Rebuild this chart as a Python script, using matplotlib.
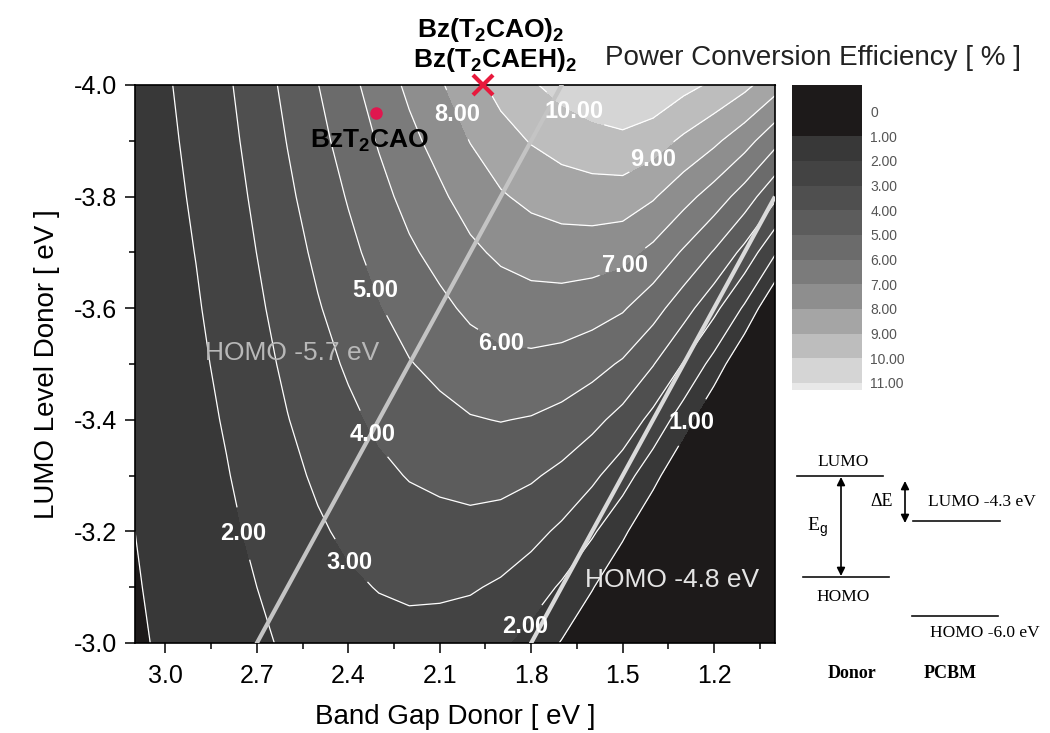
import numpy as np
import matplotlib
matplotlib.use('Agg')
import matplotlib.pyplot as plt

plt.rcParams['font.family'] = ['Liberation Sans', 'DejaVu Sans']
plt.rcParams['axes.unicode_minus'] = False
plt.rcParams['mathtext.fontset'] = 'custom'
plt.rcParams['mathtext.rm'] = 'Liberation Sans'
plt.rcParams['mathtext.bf'] = 'Liberation Sans:bold'
plt.rcParams['mathtext.it'] = 'Liberation Sans:italic'

# band gap of the donor (x) and LUMO level of the donor (y), eV
gap = [3.1, 3.0, 2.9, 2.8, 2.7, 2.6, 2.5, 2.4, 2.3, 2.2, 2.1,
       2.0, 1.9, 1.8, 1.7, 1.6, 1.5, 1.4, 1.3, 1.2, 1.1, 1.0]
lumo = [-3.0, -3.1, -3.2, -3.3, -3.4, -3.5, -3.6, -3.7, -3.8, -3.9, -4.0]

# power conversion efficiency [%], one row per LUMO level
pce = [
    [0.89, 1.11, 1.31, 1.56, 1.84, 2.12, 2.36, 2.54, 2.66, 2.70, 2.63, 2.47, 2.15, 1.65, 0.94, 0.00, 0.00, 0.00, 0.00, 0.00, 0.00, 0.00],
    [0.94, 1.19, 1.41, 1.69, 2.00, 2.33, 2.62, 2.85, 3.04, 3.15, 3.15, 3.09, 2.87, 2.47, 1.88, 1.07, 0.00, 0.00, 0.00, 0.00, 0.00, 0.00],
    [1.00, 1.26, 1.52, 1.82, 2.17, 2.54, 2.88, 3.17, 3.42, 3.60, 3.68, 3.71, 3.59, 3.30, 2.82, 2.14, 1.22, 0.00, 0.00, 0.00, 0.00, 0.00],
    [1.06, 1.34, 1.62, 1.95, 2.34, 2.76, 3.14, 3.49, 3.80, 4.05, 4.20, 4.33, 4.31, 4.12, 3.76, 3.21, 2.44, 1.35, 0.00, 0.00, 0.00, 0.00],
    [1.12, 1.42, 1.72, 2.08, 2.51, 2.97, 3.41, 3.80, 4.18, 4.50, 4.73, 4.94, 5.03, 4.94, 4.70, 4.28, 3.66, 2.70, 1.47, 0.00, 0.00, 0.00],
    [1.18, 1.50, 1.82, 2.21, 2.67, 3.18, 3.67, 4.12, 4.56, 4.95, 5.25, 5.56, 5.74, 5.77, 5.64, 5.35, 4.88, 4.05, 2.94, 1.64, 0.00, 0.00],
    [1.24, 1.58, 1.92, 2.34, 2.84, 3.39, 3.93, 4.44, 4.94, 5.40, 5.78, 6.18, 6.46, 6.59, 6.58, 6.42, 6.10, 5.40, 4.41, 3.28, 1.85, 0.00],
    [1.30, 1.66, 2.02, 2.47, 3.01, 3.60, 4.19, 4.76, 5.32, 5.85, 6.30, 6.80, 7.18, 7.42, 7.52, 7.49, 7.32, 6.75, 5.88, 4.92, 3.70, 2.10],
    [1.36, 1.74, 2.12, 2.60, 3.17, 3.82, 4.45, 5.07, 5.70, 6.30, 6.83, 7.42, 7.90, 8.24, 8.46, 8.56, 8.54, 8.10, 7.35, 6.56, 5.55, 4.20],
    [1.42, 1.82, 2.22, 2.73, 3.34, 4.03, 4.72, 5.39, 6.08, 6.75, 7.35, 8.03, 8.62, 9.06, 9.40, 9.63, 9.76, 9.45, 8.82, 8.20, 7.40, 6.30],
    [1.48, 1.90, 2.32, 2.86, 3.51, 4.24, 4.98, 5.71, 6.46, 7.20, 7.88, 8.65, 9.33, 9.89, 10.34, 10.70, 10.98, 10.80, 10.29, 9.84, 9.25, 8.40],
]

levels = list(range(12))
cbar_labels = ['0'] + ['%.2f' % v for v in range(1, 12)]
band_colors = ['#1d1a1a', '#383838', '#434343', '#4f4f4f', '#5c5c5c', '#6b6b6b',
               '#7b7b7b', '#8e8e8e', '#a5a5a5', '#bdbdbd', '#d5d5d5', '#e8e8e8']

homo_lines = [-5.7, -4.8]
homo_text = ['HOMO -5.7 eV', 'HOMO -4.8 eV']
homo_text_pos = [(2.585, -3.52), (1.337, -3.113)]

label_pos = [(1.672, -3.941), (1.393, -3.86), (2.05, -3.945), (1.508, -3.686),
             (1.902, -3.529), (2.302, -3.633), (2.329, -3.371), (2.407, -3.14),
             (2.739, -3.197), (1.836, -3.038), (1.268, -3.394)]

marker_x = (1.958, -4.0)
marker_dot = (2.31, -3.95)

fig = plt.figure(figsize=(10.5, 7.33), dpi=100)
ax = fig.add_axes([135 / 1050, 1 - 643 / 733, 640 / 1050, 558 / 733])

ax.contourf(gap, lumo, pce, levels=levels, colors=band_colors[:11])
cs = ax.contour(gap, lumo, pce, levels=levels[1:11], colors='white', linewidths=0.9)
txts = ax.clabel(cs, levels=levels[1:11], manual=label_pos, inline=True, inline_spacing=4,
                 fmt='%.2f', fontsize=17, colors='white')
for t in txts:
    t.set_rotation(0)
    t.set_fontweight('bold')

g = np.array(gap)
for h, c in zip(homo_lines, ['#c4c4c4', '#dadada']):
    ax.plot(g, g + h, color=c, lw=3, zorder=3, solid_capstyle='butt')
for s, (x, y), c in zip(homo_text, homo_text_pos, ['#b8b8b8', '#e4e4e4']):
    ax.text(x, y, s, color=c, fontsize=19, ha='center', va='center', zorder=4)

ax.plot(*marker_x, marker='x', ms=14, mew=3, color='#e8193c', clip_on=False, zorder=6)
ax.plot(*marker_dot, marker='o', ms=8, color='#e0174f', zorder=6)
ax.text(2.33, -3.90, r'$\mathbf{BzT_2CAO}$', fontsize=19, ha='center', va='center', zorder=6)

ax.set_xlim(3.1, 1.0)
ax.set_ylim(-3.0, -4.0)
ax.set_xticks([3.0, 2.7, 2.4, 2.1, 1.8, 1.5, 1.2])
ax.set_xticks([2.85, 2.55, 2.25, 1.95, 1.65, 1.35, 1.05], minor=True)
ax.set_yticks([-4.0, -3.8, -3.6, -3.4, -3.2, -3.0])
ax.set_yticks([-3.9, -3.7, -3.5, -3.3, -3.1], minor=True)
ax.xaxis.set_major_formatter('{x:.1f}')
ax.yaxis.set_major_formatter('{x:.1f}')
ax.tick_params(which='major', length=7, width=1.1, labelsize=18, pad=8)
ax.tick_params(which='minor', length=4, width=1.1)
ax.tick_params(axis='y', pad=6)
for sp in ax.spines.values():
    sp.set_linewidth(1.2)

top = ax.secondary_xaxis('top')
top.set_xticks([3.0, 2.7, 2.4, 2.1, 1.8, 1.5, 1.2])
top.set_xticks([2.85, 2.55, 2.25, 1.95, 1.65, 1.35, 1.05], minor=True)
top.tick_params(which='major', direction='in', length=7, width=1.1, labeltop=False)
top.tick_params(which='minor', direction='in', length=4, width=1.1)

ax.set_xlabel('Band Gap Donor [ eV ]', fontsize=20, labelpad=12)
ax.set_ylabel('LUMO Level Donor [ eV ]', fontsize=20, labelpad=10)

# colour scale
cax = fig.add_axes([792 / 1050, 1 - 390 / 733, 70 / 1050, 305 / 733])
edges = [-1.08] + list(range(1, 12)) + [11.29]
for i in range(12):
    cax.axhspan(edges[i], edges[i + 1], color=band_colors[i], lw=0)
cax.set_xlim(0, 1)
cax.set_ylim(11.29, -1.08)
cax.set_xticks([])
cax.yaxis.tick_right()
cax.set_yticks(levels)
cax.set_yticklabels(cbar_labels)
cax.tick_params(axis='y', length=0, pad=6, labelsize=10, labelcolor='#555555')
for sp in cax.spines.values():
    sp.set_visible(False)

# overlay for free text and the level diagram (figure pixels)
ov = fig.add_axes([0, 0, 1, 1])
ov.set_xlim(0, 1050)
ov.set_ylim(733, 0)
ov.axis('off')

ov.text(605, 58, 'Power Conversion Efficiency [ % ]', fontsize=20, ha='left', va='center', color='#222222')
ov.text(491, 30, r'$\mathbf{Bz(T_2CAO)_2}$', fontsize=19, ha='center', va='center')
ov.text(495, 60, r'$\mathbf{Bz(T_2CAEH)_2}$', fontsize=19, ha='center', va='center')

serif = ['Liberation Serif', 'DejaVu Serif']
lc = '#111111'
ov.plot([797, 883], [476, 476], color=lc, lw=1.2)
ov.plot([803, 889], [577, 577], color=lc, lw=1.2)
ov.plot([913, 1000], [521, 521], color=lc, lw=1.2)
ov.plot([912, 998], [616, 616], color=lc, lw=1.2)
arrow = dict(arrowstyle='<|-|>', color='black', lw=1.2, mutation_scale=12, shrinkA=0, shrinkB=0)
ov.annotate('', xy=(841, 477), xytext=(841, 576), arrowprops=arrow)
ov.annotate('', xy=(905, 481), xytext=(905, 523), arrowprops=arrow)
ov.text(843, 462, 'LUMO', family=serif, fontsize=12.5, ha='center', va='center')
ov.text(843, 597, 'HOMO', family=serif, fontsize=12.5, ha='center', va='center')
ov.text(817, 527, r'E$_\mathrm{g}$', family=serif, fontsize=14, ha='center', va='center')
ov.text(882, 502, u'\u0394E', family=serif, fontsize=13, ha='center', va='center')
ov.text(928, 502, 'LUMO -4.3 eV', family=serif, fontsize=12.5, ha='left', va='center')
ov.text(930, 633, 'HOMO -6.0 eV', family=serif, fontsize=12.5, ha='left', va='center')
ov.text(852, 673, 'Donor', family=serif, fontsize=13, weight='bold', ha='center', va='center')
ov.text(950, 673, 'PCBM', family=serif, fontsize=13, weight='bold', ha='center', va='center')

fig.savefig('out.png', dpi=100)
